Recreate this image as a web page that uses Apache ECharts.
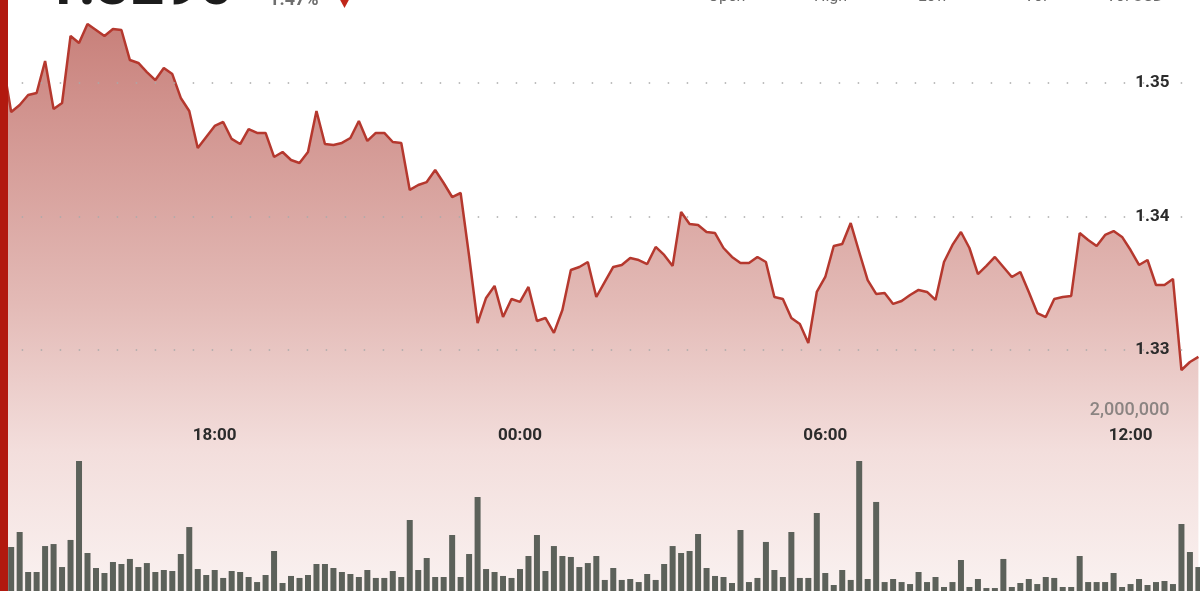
<!DOCTYPE html>
<html>
<head>
<meta charset="utf-8">
<script src="https://cdn.jsdelivr.net/npm/echarts@6/dist/echarts.min.js"></script>
<style>
  html, body { margin: 0; padding: 0; background: #fff; overflow: hidden; width: 1200px; height: 591px; }
  /* chart is taller than the window and shifted up: the source view is cropped on top and bottom */
  #chart { position: absolute; left: 0; top: -60px; width: 1200px; height: 700px; }
</style>
</head>
<body>
<div id="chart"></div>
<script>
// 10 minute points, 13:50 -> 13:20 next day
const startMinutes = 13 * 60 + 50
const pointCount = 142
const times = []
for (let i = 0; i < pointCount; i++) {
  const m = (startMinutes + i * 10) % 1440
  times.push(String(Math.floor(m / 60)).padStart(2, '0') + ':' + String(m % 60).padStart(2, '0'))
}

const timeTicks = ['18:00', '00:00', '06:00', '12:00']
const priceTicks = ['1.33', '1.34', '1.35']
const priceLines = [1.33, 1.34, 1.35]

const prices = [
  1.35157, 1.34783, 1.34835, 1.3491, 1.34925, 1.35165, 1.34805, 1.3485, 1.35352, 1.353,
  1.35442, 1.35397, 1.35352, 1.35404, 1.35397, 1.35172, 1.3515, 1.35082, 1.35022, 1.35112,
  1.35067, 1.34888, 1.3479, 1.34513, 1.34596, 1.34678, 1.34708, 1.34581, 1.34543, 1.34655,
  1.34626, 1.34626, 1.34446, 1.34483, 1.34423, 1.34401, 1.34483, 1.3479, 1.34543, 1.34536,
  1.34551, 1.34588, 1.34715, 1.34566, 1.34626, 1.34626, 1.34558, 1.34551, 1.34199, 1.34236,
  1.34258, 1.34348, 1.34251, 1.34146, 1.34176, 1.33704, 1.33202, 1.3339, 1.3348, 1.33247,
  1.33382, 1.3336, 1.33472, 1.33217, 1.3324, 1.33128, 1.333, 1.33599, 1.33622, 1.33659,
  1.33397, 1.3351, 1.33622, 1.33637, 1.33689, 1.33674, 1.33644, 1.33772, 1.33712, 1.3363,
  1.34034, 1.33944, 1.33936, 1.33884, 1.33876, 1.33764, 1.33697, 1.33652, 1.33652, 1.33697,
  1.33659, 1.33397, 1.33382, 1.3324, 1.33195, 1.33053, 1.33435, 1.33547, 1.33779, 1.33794,
  1.33951, 1.33734, 1.33524, 1.3342, 1.33427, 1.33345, 1.33367, 1.33412, 1.3345, 1.33435,
  1.33375, 1.33659, 1.33787, 1.33884, 1.33764, 1.33569, 1.3363, 1.33697, 1.33622, 1.33547,
  1.33584, 1.33435, 1.33277, 1.33247, 1.33382, 1.33397, 1.33405, 1.33876, 1.33824, 1.33779,
  1.33862, 1.33891, 1.33847, 1.33749, 1.33637, 1.33674, 1.33487, 1.33487, 1.33532, 1.3285,
  1.3291, 1.32948
]

const volumes = [
  600000, 558000, 716000, 295000, 295000, 568000, 589000, 347000, 632000, 1463000,
  495000, 337000, 284000, 400000, 379000, 432000, 347000, 389000, 295000, 316000,
  305000, 484000, 768000, 326000, 263000, 316000, 232000, 305000, 295000, 242000,
  189000, 263000, 516000, 179000, 253000, 232000, 263000, 379000, 379000, 337000,
  295000, 274000, 242000, 316000, 232000, 232000, 305000, 242000, 842000, 316000,
  442000, 242000, 242000, 684000, 242000, 484000, 1084000, 326000, 295000, 253000,
  232000, 326000, 463000, 684000, 305000, 568000, 463000, 453000, 347000, 389000,
  463000, 211000, 337000, 211000, 221000, 189000, 274000, 211000, 379000, 568000,
  495000, 516000, 695000, 337000, 253000, 242000, 179000, 737000, 189000, 232000,
  611000, 316000, 242000, 716000, 232000, 232000, 916000, 284000, 158000, 316000,
  211000, 1463000, 221000, 1032000, 189000, 221000, 189000, 168000, 295000, 189000,
  242000, 137000, 189000, 421000, 137000, 221000, 126000, 126000, 432000, 137000,
  179000, 221000, 168000, 242000, 232000, 137000, 137000, 463000, 189000, 189000,
  189000, 284000, 137000, 168000, 221000, 158000, 189000, 200000, 168000, 800000,
  505000, 347000
]

const headers = [
  { text: 'Open', x: 708 },
  { text: 'High', x: 814 },
  { text: 'Low', x: 918 },
  { text: 'Vol', x: 1024 },
  { text: 'Vol USD', x: 1106 }
]

const dotted = { type: [1.5, 17.5], width: 1.5, color: '#a9a9a9' }
const showTick = (index, value) => timeTicks.includes(value)
const shift = 60 // page y -> chart y

const chart = echarts.init(document.getElementById('chart'))

const option = {
  animation: false,
  backgroundColor: '#fff',
  grid: [
    { left: 2.7, right: 1.6, top: 9.5, bottom: 23 },
    { left: 2.7, right: 1.6, top: 470, bottom: 40 }
  ],
  xAxis: [
    { gridIndex: 0, type: 'category', data: times, boundaryGap: false, show: false },
    {
      gridIndex: 1,
      type: 'category',
      data: times,
      boundaryGap: false,
      position: 'top',
      z: 10,
      axisLine: { lineStyle: dotted },
      axisTick: { interval: showTick, length: 3, lineStyle: { color: '#444', width: 2 } },
      axisLabel: {
        interval: showTick,
        inside: true,
        margin: 17,
        color: '#2b2b2b',
        fontSize: 17,
        fontWeight: 'bold',
        fontFamily: 'Roboto'
      },
      splitLine: { show: false }
    }
  ],
  yAxis: [
    {
      gridIndex: 0,
      type: 'value',
      min: 1.31,
      max: 1.36,
      interval: 0.01,
      position: 'right',
      z: 10,
      axisLine: { show: false },
      axisTick: { show: false },
      splitLine: { show: false },
      axisLabel: {
        inside: true,
        margin: 29,
        color: '#2b2b2b',
        fontSize: 17,
        fontWeight: 'bold',
        fontFamily: 'Roboto',
        formatter: v => priceTicks.includes(v.toFixed(2)) ? v.toFixed(2) : ''
      }
    },
    {
      gridIndex: 1,
      type: 'value',
      min: 0,
      max: 2000000,
      interval: 2000000,
      position: 'right',
      z: 10,
      axisLine: { show: false },
      axisTick: { show: false },
      splitLine: { show: false },
      axisLabel: {
        inside: true,
        margin: 29,
        color: '#8b8482',
        fontSize: 18,
        fontWeight: 500,
        fontFamily: 'Roboto',
        formatter: v => v === 2000000 ? v.toLocaleString('en-US') : ''
      }
    }
  ],
  series: [
    {
      name: 'Price',
      type: 'line',
      xAxisIndex: 0,
      yAxisIndex: 0,
      z: 2,
      data: prices,
      symbol: 'none',
      lineStyle: { color: '#b5382e', width: 2.5 },
      areaStyle: {
        origin: 'start',
        opacity: 1,
        color: new echarts.graphic.LinearGradient(0, 0, 0, 1, [
          { offset: 0, color: '#c8807a' },
          { offset: 0.13, color: '#d0918c' },
          { offset: 0.47, color: '#e3bab6' },
          { offset: 0.72, color: '#f3dedc' },
          { offset: 1, color: '#fbf5f4' }
        ])
      },
      markLine: {
        silent: true,
        symbol: 'none',
        label: { show: false },
        lineStyle: dotted,
        data: priceLines.map(v => ({ yAxis: v }))
      }
    },
    {
      name: 'Volume',
      type: 'bar',
      xAxisIndex: 1,
      yAxisIndex: 1,
      z: 4,
      data: volumes,
      barWidth: 6,
      itemStyle: { color: '#5c615a' }
    }
  ],
  graphic: [
    { type: 'rect', z: 100, shape: { x: 0, y: 0, width: 8, height: 700 }, style: { fill: '#b2190f' } },
    {
      type: 'text', z: 100,
      style: { text: '1.3290', x: 44, y: 19 + shift, verticalAlign: 'bottom', font: 'bold 60px Roboto', fill: '#1c1c1c' }
    },
    {
      type: 'text', z: 100,
      style: { text: '-1.47%', x: 262, y: 9 + shift, verticalAlign: 'bottom', font: 'bold 18px Roboto', fill: '#6e6e6e' }
    },
    {
      type: 'polygon', z: 100,
      shape: { points: [[338, shift - 4], [351, shift - 4], [344.5, shift + 8]] },
      style: { fill: '#c0261a' }
    }
  ].concat(headers.map(h => ({
    type: 'text', z: 100,
    style: { text: h.text, x: h.x, y: 5 + shift, verticalAlign: 'bottom', font: '16px Roboto', fill: '#6a6a6a' }
  })))
}

chart.setOption(option)
</script>
</body>
</html>
